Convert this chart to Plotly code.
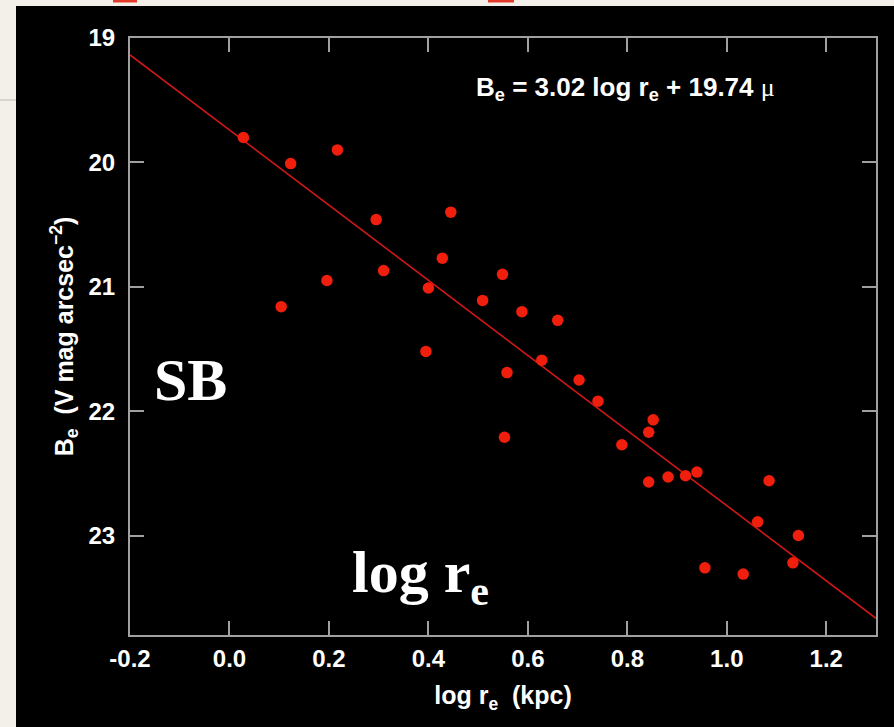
import numpy as np
import plotly.graph_objects as go

# Galaxy sample: effective radius (log kpc) vs. effective surface brightness
log_re = [0.028, 0.123, 0.217, 0.295, 0.310, 0.196, 0.104, 0.400, 0.395,
          0.445, 0.428, 0.549, 0.509, 0.588, 0.660, 0.628, 0.558, 0.703,
          0.741, 0.553, 0.852, 0.843, 0.789, 0.843, 0.882, 0.917, 0.940,
          1.085, 1.062, 1.144, 1.133, 0.956, 1.033]
B_e = [19.80, 20.01, 19.90, 20.46, 20.87, 20.95, 21.16, 21.01, 21.52,
       20.40, 20.77, 20.90, 21.11, 21.20, 21.27, 21.59, 21.69, 21.75,
       21.92, 22.21, 22.07, 22.17, 22.27, 22.57, 22.53, 22.52, 22.49,
       22.56, 22.89, 23.00, 23.22, 23.26, 23.31]

# Fitted relation B_e = slope * log r_e + intercept
fit_slope = 3.02
fit_intercept = 19.74

x_ticks = [-0.2, 0.0, 0.2, 0.4, 0.6, 0.8, 1.0, 1.2]
y_ticks = [19, 20, 21, 22, 23]

x_range = [-0.2, 1.3]
y_range = [23.8, 19.0]

fit_x = np.array(x_range)
fit_y = fit_slope * fit_x + fit_intercept

SANS = "Liberation Sans, Arial, sans-serif"
SERIF = "Liberation Serif, serif"

# Figure geometry (pixels)
W, H = 894, 727
ml, mr, mt, mb = 130, 18, 38, 92
pw, ph = W - ml - mr, H - mt - mb


def px_to_paper(px, py):
    return (px - ml) / pw, (H - mb - py) / ph


fig = go.Figure()

fig.add_trace(go.Scatter(
    x=fit_x, y=fit_y, mode="lines",
    line=dict(color="#d01818", width=1.6),
    hoverinfo="skip", showlegend=False,
))
fig.add_trace(go.Scatter(
    x=log_re, y=B_e, mode="markers",
    marker=dict(color="#f01e0c", size=11.5, line=dict(width=0)),
    showlegend=False,
))

axis_common = dict(
    showgrid=False, zeroline=False,
    showline=True, linecolor="#a0a0a0", linewidth=2,
    mirror="allticks", ticks="inside", ticklen=14, tickwidth=2,
    tickcolor="#a0a0a0",
    tickfont=dict(family=SANS, size=24, color="white", weight="bold"),
)

fig.update_xaxes(
    range=x_range, tickvals=x_ticks,
    ticktext=[f"{v:.1f}" for v in x_ticks],
    ticklabelstandoff=1,
    title=dict(text="log r<sub>e</sub>  (kpc)", standoff=16,
               font=dict(family=SANS, size=25, color="white", weight="bold")),
    **axis_common,
)
fig.update_yaxes(
    range=y_range, tickvals=y_ticks,
    ticktext=[str(v) for v in y_ticks],
    ticklabelstandoff=8,
    title=dict(text="B<sub>e</sub>  (V mag arcsec<sup>\u22122</sup>)",
               standoff=8,
               font=dict(family=SANS, size=25, color="white", weight="bold")),
    **axis_common,
)

# Fit equation label
ex, ey = px_to_paper(625, 88)
fig.add_annotation(
    x=ex, y=ey, xref="paper", yref="paper", xanchor="center", yanchor="middle",
    text=(f"B<sub>e</sub> = {fit_slope:.2f} log r<sub>e</sub> + "
          f"{fit_intercept:.2f} <span style='font-weight:normal;"
          f"font-family:Liberation Serif'>\u03bc</span>"),
    showarrow=False,
    font=dict(family=SANS, size=26, color="white", weight="bold"),
)

# Large serif captions
sx, sy = px_to_paper(190, 380)
fig.add_annotation(
    x=sx, y=sy, xref="paper", yref="paper", xanchor="center", yanchor="middle",
    text="SB", showarrow=False, bgcolor="black",
    font=dict(family=SERIF, size=60, color="white", weight="bold"),
)
lx, ly = px_to_paper(420, 576)
fig.add_annotation(
    x=lx, y=ly, xref="paper", yref="paper", xanchor="center", yanchor="middle",
    text="log r<sub>e</sub>", showarrow=False,
    font=dict(family=SERIF, size=60, color="white", weight="bold"),
)

# Black slide panel on a light page
x0, y1 = px_to_paper(16, 6)
x1, y0 = px_to_paper(W, H)
shapes = [
    dict(type="rect", xref="paper", yref="paper", x0=x0, x1=x1, y0=y0, y1=y1,
         fillcolor="black", line=dict(width=0), layer="below"),
]
# Small page details along the edges
for a, b in [(113, 137), (488, 514)]:
    rx0, ry1 = px_to_paper(a, 0)
    rx1, ry0 = px_to_paper(b, 2.5)
    shapes.append(dict(type="rect", xref="paper", yref="paper",
                       x0=rx0, x1=rx1, y0=ry0, y1=ry1,
                       fillcolor="#e23a2a", line=dict(width=0), layer="below"))
gx0, gy = px_to_paper(0, 100)
gx1, _ = px_to_paper(16, 100)
shapes.append(dict(type="line", xref="paper", yref="paper",
                   x0=gx0, x1=gx1, y0=gy, y1=gy,
                   line=dict(color="#cfcac2", width=1.5), layer="below"))

fig.update_layout(
    width=W, height=H,
    margin=dict(l=ml, r=mr, t=mt, b=mb),
    paper_bgcolor="#f3f0ea",
    plot_bgcolor="black",
    shapes=shapes,
    showlegend=False,
)

fig.write_html("out.html")
